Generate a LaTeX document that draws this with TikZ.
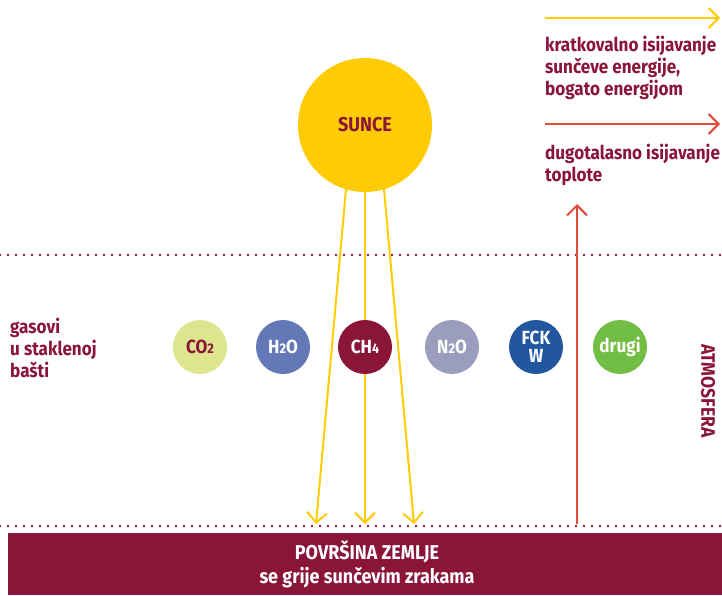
\documentclass[tikz,border=0pt]{standalone}
\usepackage{fontspec}
\setmainfont[FakeStretch=0.9]{Fira Sans}
\usetikzlibrary{arrows.meta}
\definecolor{maroon}{HTML}{8A1538}
\definecolor{sunyel}{HTML}{FFCB05}
\definecolor{heatred}{HTML}{E24B3B}
\definecolor{cotwo}{HTML}{DDE68E}
\definecolor{htwoo}{HTML}{6478B8}
\definecolor{ntwoo}{HTML}{9A9DBB}
\definecolor{fckw}{HTML}{2257A0}
\definecolor{drugi}{HTML}{72BD44}
\tikzset{
  lbl/.style={font=\bfseries\fontsize{19}{22}\selectfont, text=maroon, align=left, inner sep=0pt},
  gas/.style={circle, minimum size=54pt, inner sep=0pt, font=\bfseries\fontsize{19}{18}\selectfont, align=center},
  ray/.style={sunyel, line width=2pt, -{Straight Barb[length=10pt,width=20pt,line width=2pt]}},
  heat/.style={heatred, line width=2pt, -{Straight Barb[length=10pt,width=20pt,line width=2pt]}},
  dotline/.style={maroon, line width=2.6pt, dash pattern=on 0pt off 8pt, line cap=round}
}
\begin{document}
\begin{tikzpicture}[x=1pt,y=-1pt]
\useasboundingbox (0,0) rectangle (722,595);
% dotted lines
\coordinate (dl1) at (0,255); \coordinate (dr1) at (722,255);
\coordinate (dl2) at (0,526); \coordinate (dr2) at (722,526);
\draw[dotline] (dl1) -- (dr1);
\draw[dotline] (dl2) -- (dr2);
% earth band
\node[fill=maroon, minimum width=714pt, minimum height=62pt, inner sep=0pt, anchor=north west] (earth) at (8,533) {};
\node[font=\bfseries\fontsize{20}{22}\selectfont, text=white] (earthA) at (367,552) {POVRŠINA ZEMLJE};
\node[font=\bfseries\fontsize{20}{22}\selectfont, text=white] (earthB) at (367,578) {se grije sunčevim zrakama};
% sun
\node[circle, fill=sunyel, minimum size=134pt, inner sep=0pt] (sun) at (365,125) {};
\node[font=\bfseries\fontsize{20}{22}\selectfont, text=maroon] (sunlbl) at (365,125) {SUNCE};
% rays
\coordinate (r1) at (316,524);
\coordinate (r2) at (365,524);
\coordinate (r3) at (414,524);
\coordinate (s1) at (346,189);
\coordinate (s2) at (365,191);
\coordinate (s3) at (384,189);
\draw[ray] (s1) -- (r1);
\draw[ray] (s2) -- (r2);
\draw[ray] (s3) -- (r3);
% heat arrow
\coordinate (h0) at (577,524);
\coordinate (h1) at (577,204);
\draw[heat] (h0) -- (h1);
% legend
\coordinate (ly0) at (545,18); \coordinate (ly1) at (720,18);
\draw[ray] (ly0) -- (ly1);
\node[lbl, anchor=north west] (lyt) at (545,36) {kratkovalno isijavanje\\sunčeve energije,\\bogato energijom};
\coordinate (lr0) at (545,124); \coordinate (lr1) at (720,124);
\draw[heat] (lr0) -- (lr1);
\node[lbl, anchor=north west] (lrt) at (545,144) {dugotalasno isijavanje\\toplote};
% gases label
\node[lbl, anchor=west] (gaslbl) at (10,348) {gasovi\\u staklenoj\\bašti};
% gas circles
\node[gas, fill=cotwo, text=maroon] (co2) at (200,347) {CO{\fontsize{14}{14}\selectfont 2}};
\node[gas, fill=htwoo, text=white] (h2o) at (283,347) {H{\fontsize{14}{14}\selectfont 2}O};
\node[gas, fill=maroon, text=white] (ch4) at (365,347) {CH{\fontsize{14}{14}\selectfont 4}};
\node[gas, fill=ntwoo, text=white] (n2o) at (452,347) {N{\fontsize{14}{14}\selectfont 2}O};
\node[gas, fill=fckw, text=white, font=\bfseries\fontsize{19}{18}\selectfont] (fckwn) at (536,347) {FCK\\W};
\node[gas, fill=drugi, text=white] (drugin) at (620,347) {drugi};
% atmosphere
\node[font=\bfseries\fontsize{19.5}{20}\selectfont, text=maroon, rotate=-90] (atm) at (708,391) {ATMOSFERA};
\end{tikzpicture}
\end{document}
